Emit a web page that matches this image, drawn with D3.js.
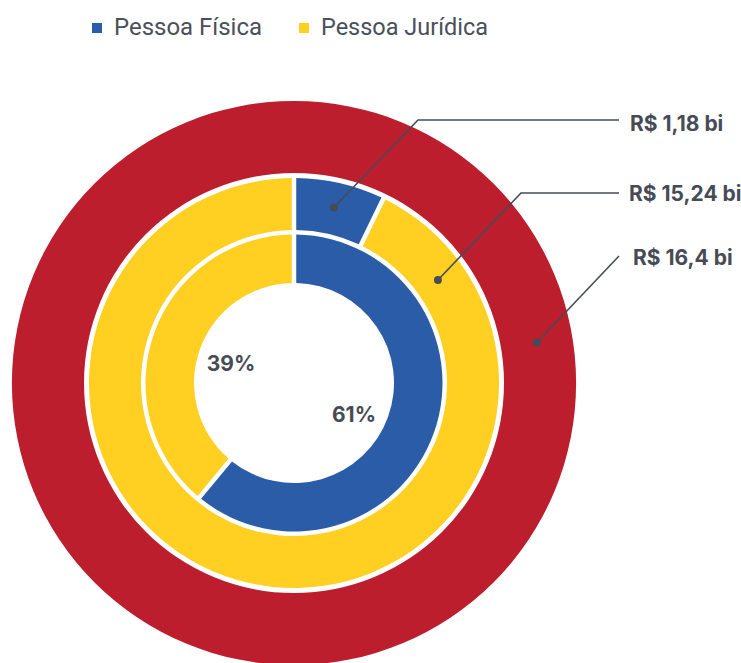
<!DOCTYPE html>
<html>
<head>
<meta charset="utf-8">
<script src="https://cdn.jsdelivr.net/npm/d3@7/dist/d3.min.js"></script>
<style>
  body { margin: 0; background: #fff; }
  svg { display: block; }
</style>
</head>
<body>
<svg width="741" height="663"></svg>
<script>
// data
var categories = ["Pessoa Física", "Pessoa Jurídica"];
var totalValue = [16.4];
var amountValues = [1.18, 15.24];
var shareValues = [61, 39];
var valueLabels = ["R$ 1,18 bi", "R$ 15,24 bi", "R$ 16,4 bi"];
var shareLabels = ["61%", "39%"];

var colors = d3.scaleOrdinal().domain(categories).range(["#2b5ca8", "#ffcf21"]);
var red = "#bc1e2d", ink = "#464b55";

var svg = d3.select("svg"),
    cx = 294, cy = 383;

var g = svg.append("g").attr("transform", "translate(" + cx + "," + cy + ")");

var pie = d3.pie().sort(null).value(function (d) { return d; });

// outer ring: total
var outerArc = d3.arc().innerRadius(210).outerRadius(282);
g.append("g").selectAll("path")
    .data(pie(totalValue))
    .enter().append("path")
    .attr("d", outerArc)
    .attr("fill", red);

// middle ring: amounts
var midArc = d3.arc().innerRadius(153).outerRadius(205).padAngle(0.05).padRadius(90);
g.append("g").selectAll("path")
    .data(pie(amountValues))
    .enter().append("path")
    .attr("d", midArc)
    .attr("fill", function (d, i) { return colors(categories[i]); });

// inner ring: shares
var innerArc = d3.arc().innerRadius(100).outerRadius(148.5).padAngle(0.05).padRadius(90);
g.append("g").selectAll("path")
    .data(pie(shareValues))
    .enter().append("path")
    .attr("d", innerArc)
    .attr("fill", function (d, i) { return colors(categories[i]); });

// percent labels
var shareLabelPos = [[60, 31], [-63, -20]];
g.append("g").selectAll("text")
    .data(shareLabels)
    .enter().append("text")
    .attr("x", function (d, i) { return shareLabelPos[i][0]; })
    .attr("y", function (d, i) { return shareLabelPos[i][1]; })
    .attr("text-anchor", "middle")
    .attr("dominant-baseline", "central")
    .style("font", "700 21px Inter, Roboto, sans-serif")
    .style("fill", ink)
    .text(function (d) { return d; });

// callouts: dot angle (deg), dot radius, path points, label x/y
var callouts = [
  {ang: 12.8, r: 180, pts: [[418, 120], [619, 120]], x: 630, y: 123},
  {ang: 54.4, r: 177, pts: [[521, 193], [619, 193]], x: 629, y: 193},
  {ang: 80.6, r: 246, pts: [[619, 256]], x: 633, y: 257}
];

var line = d3.line();
callouts.forEach(function (c, i) {
  var a = c.ang * Math.PI / 180,
      px = cx + c.r * Math.sin(a),
      py = cy - c.r * Math.cos(a);
  svg.append("path")
      .attr("d", line([[px, py]].concat(c.pts)))
      .attr("fill", "none")
      .attr("stroke", ink)
      .attr("stroke-width", 1.6);
  svg.append("circle")
      .attr("cx", px).attr("cy", py).attr("r", 4)
      .attr("fill", ink);
  svg.append("text")
      .attr("x", c.x)
      .attr("y", c.y)
      .attr("dominant-baseline", "central")
      .style("font", "700 21px Inter, Roboto, sans-serif")
      .style("fill", ink)
      .text(valueLabels[i]);
});

// legend
var legendX = [92, 299], legendW = [148, 167];
var legend = svg.append("g").selectAll("g")
    .data(categories)
    .enter().append("g")
    .attr("transform", function (d, i) { return "translate(" + legendX[i] + ",23)"; });
legend.append("rect")
    .attr("width", 10).attr("height", 10)
    .attr("fill", function (d) { return colors(d); });
legend.append("text")
    .attr("x", 22).attr("y", 12)
    .attr("textLength", function (d, i) { return legendW[i]; })
    .attr("lengthAdjust", "spacingAndGlyphs")
    .style("font", "400 24px Roboto, sans-serif")
    .style("fill", "#4a505a")
    .text(function (d) { return d; });
</script>
</body>
</html>
